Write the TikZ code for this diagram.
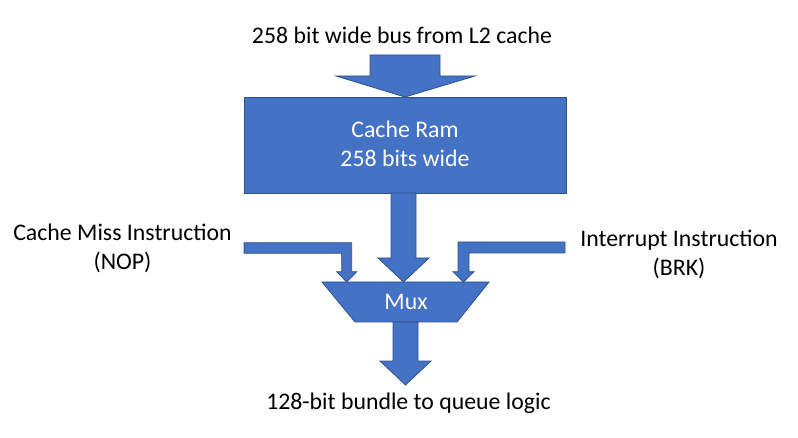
\documentclass[tikz,border=0pt]{standalone}
\usepackage{fontspec}
\setmainfont{Carlito}
\definecolor{fillblue}{HTML}{4472C4}
\definecolor{edgeblue}{HTML}{2F528F}
\begin{document}
\begin{tikzpicture}[x=1pt,y=-1pt,
  blockshape/.style={fill=fillblue,draw=edgeblue,line width=0.8pt,line join=miter},
  plainlabel/.style={font=\fontsize{23.8}{29}\selectfont,inner sep=0pt,align=center,text=black},
  whitelabel/.style={font=\fontsize{23.8}{28.5}\selectfont,inner sep=0pt,align=center,text=white}]
\useasboundingbox (0,0) rectangle (798,438);
% labels
\node[plainlabel,anchor=base] (bus) at (402,44) {258 bit wide bus from L2 cache};
\node[plainlabel,anchor=base] (miss1) at (122.5,241) {Cache Miss Instruction};
\node[plainlabel,anchor=base] (miss2) at (122.5,270) {(NOP)};
\node[plainlabel,anchor=base] (brk1) at (679,247) {Interrupt Instruction};
\node[plainlabel,anchor=base] (brk2) at (679,276) {(BRK)};
\node[plainlabel,anchor=base] (out) at (408.5,409) {128-bit bundle to queue logic};
% cache ram box
\draw[blockshape] (244,97) rectangle (566,193);
\node[whitelabel,anchor=base] (ram1) at (405,138) {Cache Ram};
\node[whitelabel,anchor=base] (ram2) at (405,167) {258 bits wide};
% input arrow
\draw[blockshape] (370,55) -- (440,55) -- (440,76) -- (475,76) -- (405,97) -- (336,76) -- (370,76) -- cycle;
% ram to mux
\draw[blockshape] (391,193) -- (416,193) -- (416,258) -- (429,258) -- (403.5,282) -- (378,258) -- (391,258) -- cycle;
% left bent arrow
\draw[blockshape] (244,242.7) -- (351.7,242.7) -- (351.7,271.7) -- (356.7,271.7) -- (346.7,282) -- (336.7,271.7) -- (341.7,271.7) -- (341.7,253.3) -- (244,253.3) -- cycle;
% right bent arrow
\draw[blockshape] (565,242) -- (458,242) -- (458,271.7) -- (453,271.7) -- (463.5,282) -- (474,271.7) -- (469,271.7) -- (469,253) -- (565,253) -- cycle;
% mux
\draw[blockshape] (322,282) -- (489,282) -- (457,322) -- (355,322) -- cycle;
\node[whitelabel,anchor=base] (mux) at (406,310) {Mux};
% output arrow
\draw[blockshape] (393,322) -- (418,322) -- (418,361) -- (431,361) -- (405.5,385) -- (380,361) -- (393,361) -- cycle;
\end{tikzpicture}
\end{document}
